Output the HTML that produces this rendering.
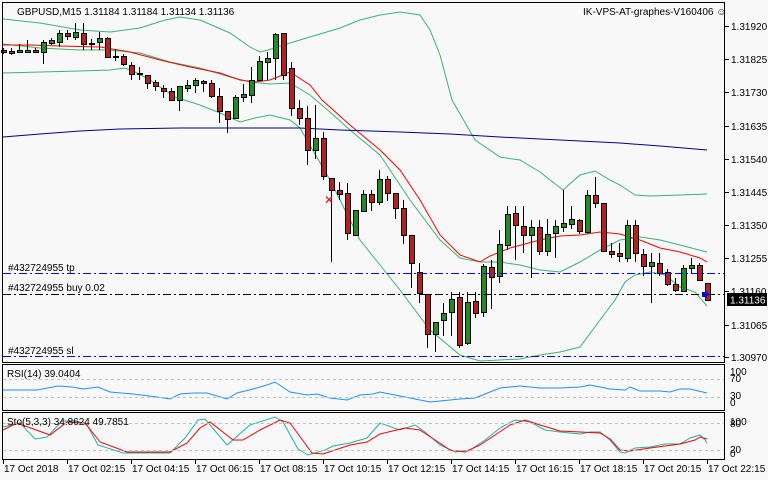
<!DOCTYPE html>
<html><head><meta charset="utf-8"><style>
html,body{margin:0;padding:0;background:#f8f8f8;}
svg{display:block;font-family:"Liberation Sans",sans-serif;font-size:10px;}
</style></head><body>
<svg id="s" width="768" height="480" viewBox="0 0 768 480" xmlns="http://www.w3.org/2000/svg">
<rect width="768" height="480" fill="#f8f8f8"/>
<g id="g"></g>
<rect x="2.5" y="2.5" width="722" height="360" fill="none" stroke="#000"/>
<rect x="2.5" y="364.5" width="722" height="46" fill="none" stroke="#000"/>
<rect x="2.5" y="412.5" width="722" height="47" fill="none" stroke="#000"/>
<line x1="3" y1="273.5" x2="724" y2="273.5" stroke="#0000ff" stroke-dasharray="8,3,2,3"/>
<line x1="3" y1="294.5" x2="724" y2="294.5" stroke="#000" stroke-dasharray="8,3,2,3"/>
<line x1="3" y1="356.5" x2="724" y2="356.5" stroke="#0000ff" stroke-dasharray="8,3,2,3"/>
<line x1="3" y1="379.5" x2="724" y2="379.5" stroke="#c0c0c0" stroke-dasharray="3,3"/>
<line x1="3" y1="397.5" x2="724" y2="397.5" stroke="#c0c0c0" stroke-dasharray="3,3"/>
<line x1="3" y1="423.5" x2="724" y2="423.5" stroke="#c0c0c0" stroke-dasharray="3,3"/>
<line x1="3" y1="450.5" x2="724" y2="450.5" stroke="#c0c0c0" stroke-dasharray="3,3"/>
<g fill="#000">
<text x="17" y="15">GBPUSD,M15  1.31184 1.31184 1.31134 1.31136</text>
<text x="583" y="15">IK-VPS-AT-graphes-V160406 ☺</text>
<text x="8" y="271">#432724955 tp</text>
<text x="8" y="291">#432724955 buy 0.02</text>
<text x="8" y="354">#432724955 sl</text>
<text x="7" y="377">RSI(14) 39.0404</text>
<text x="7" y="425">Sto(5,3,3) 34.8624 49.7851</text>
</g>
<g id="ax" fill="#000"></g>
</svg>
<script>
var g=document.getElementById('g'),ax=document.getElementById('ax');
var h='';
function pl(pts,c,w){return '<polyline fill="none" stroke="'+c+'" stroke-width="'+(w||1)+'" points="'+pts.map(function(p){return p.join(',')}).join(' ')+'"/>';}
h+=pl([[3,19],[40,23],[80,30],[110,32],[140,28],[165,20],[180,17],[200,20],[230,33],[250,47],[260,52],[268,50],[290,43],[310,37],[340,28],[360,20],[380,15],[400,12],[420,15],[430,30],[440,55],[452,100],[475,140],[500,157],[520,160],[540,172],[563,190],[580,175],[595,171],[610,180],[620,185],[635,195],[650,196],[680,195],[707,194]],'#3cb371');
h+=pl([[3,44],[40,48],[80,50],[110,50],[140,53],[170,62],[200,68],[230,77],[250,82],[270,84],[290,83],[310,95],[330,112],[350,130],[380,155],[410,200],[440,240],[460,258],[480,262],[500,262],[520,265],[540,270],[560,272],[580,262],[600,250],[620,240],[640,237],[660,240],[680,245],[707,252]],'#3cb371');
h+=pl([[3,73],[40,72],[80,71],[110,70],[125,68],[135,72],[150,80],[175,97],[200,105],[220,113],[240,122],[255,118],[270,115],[290,120],[300,128],[330,180],[360,240],[400,290],[430,330],[460,355],[480,361],[520,359],[540,355],[560,352],[580,347],[600,320],[615,300],[625,282],[635,275],[650,272],[665,275],[680,287],[695,292],[707,306]],'#3cb371');
h+=pl([[3,45],[30,45],[60,46],[100,47],[130,52],[160,60],[190,67],[220,73],[240,80],[255,82],[270,80],[290,72],[310,85],[322,100],[350,125],[380,150],[400,170],[420,200],[440,235],[460,255],[480,262],[490,256],[510,248],[540,240],[560,236],[580,235],[600,232],[620,234],[640,240],[660,248],[680,252],[700,258],[707,262]],'#ff0000');
h+=pl([[3,137],[40,134],[80,131],[120,129],[180,128],[240,128],[300,128],[340,130],[400,132],[450,134],[500,137],[560,140],[620,143],[660,146],[707,150]],'#00008b');
var C=[[50,52,48,54],[51,53,48,55],[52,50,44,53],[52,50,40,52],[50,52,48,53],[52,42,40,64],[43,40,38,45],[42,33,30,47],[33,36,30,40],[37,32,23,40],[33,44,23,50],[43,44,39,50],[42,38,32,50],[38,57,37,58],[56,56,49,61],[56,64,54,66],[65,74,62,80],[73,73,67,80],[75,83,75,89],[82,86,80,91],[88,91,85,98],[91,100,88,101],[100,86,86,111],[88,85,80,92],[85,80,78,93],[81,83,80,92],[83,96,80,98],[96,111,88,123],[111,119,111,133],[118,97,95,118],[97,94,84,102],[95,80,67,103],[80,61,56,80],[62,58,52,80],[58,34,33,80],[33,75,33,80],[68,108,62,116],[108,118,100,125],[118,150,106,165],[150,138,105,159],[138,176,132,180],[178,190,178,262],[190,194,182,200],[193,233,183,240],[235,210,210,236],[211,194,190,212],[194,202,190,211],[202,179,170,205],[179,193,176,201],[193,208,193,219],[208,235,200,244],[235,263,235,288],[272,293,263,303],[294,334,294,348],[334,322,322,352],[320,313,303,336],[312,299,292,336],[297,345,292,348],[343,302,292,345],[301,313,292,318],[312,266,264,317],[267,277,260,309],[276,244,230,283],[245,214,206,250],[213,225,206,260],[226,235,206,253],[235,227,220,278],[227,251,220,255],[251,234,219,256],[233,226,220,258],[227,223,190,232],[224,219,206,229],[220,231,219,234],[232,195,190,234],[195,203,177,208],[203,251,203,251],[251,254,243,258],[253,256,243,262],[258,225,220,262],[225,253,220,262],[254,266,249,276],[266,262,253,303],[263,273,253,276],[272,284,269,286],[284,290,278,292],[291,268,265,292],[268,265,258,273],[265,280,263,281],[283,300,283,300]];
C.forEach(function(c,i){var x=3+8*i;var up=c[1]<c[0];var t=Math.min(c[0],c[1]),b=Math.max(c[0],c[1]);
h+='<line x1="'+(x+.5)+'" y1="'+c[2]+'" x2="'+(x+.5)+'" y2="'+c[3]+'" stroke="#000"/>';
if(b-t<1)b=t+1;
h+='<rect x="'+(x-2+.5)+'" y="'+(t+.5)+'" width="5" height="'+(b-t)+'" fill="'+(up?'#228b22':'#b22222')+'" stroke="#000"/>';});
h+='<text x="324" y="204" fill="#ff0000" font-size="12">✕</text>';
h+='<polygon points="702,292 705,292 705,290 709,294.5 705,299 705,297 702,297" fill="#0000ff"/>';
h+=pl([[3,390],[37,390],[58,386],[72,387],[83,389],[98,387],[110,392],[133,394],[157,397],[170,399],[180,394],[193,393],[207,393],[227,399],[237,393],[253,389],[267,385],[275,382],[290,392],[307,395],[317,394],[330,398],[347,400],[360,395],[373,394],[380,392],[400,396],[420,400],[430,402],[440,401],[460,399],[475,398],[490,392],[500,388],[520,386],[540,388],[560,388],[580,387],[590,385],[610,389],[625,390],[630,387],[640,391],[660,391],[670,392],[680,389],[690,389],[707,393]],'#1e90ff');
h+=pl([[3,427],[20,423],[35,439],[47,437],[62,421],[77,421],[87,425],[98,445],[123,453],[170,453],[185,438],[198,420],[205,419],[227,445],[250,425],[275,417],[283,422],[298,449],[308,455],[325,450],[333,446],[350,443],[367,438],[380,423],[400,430],[415,425],[425,432],[440,445],[455,452],[470,450],[485,440],[500,428],[515,420],[530,422],[545,430],[560,432],[580,434],[590,432],[600,432],[610,440],[620,452],[625,453],[635,448],[650,447],[665,444],[680,444],[690,438],[700,435],[705,440],[707,443]],'#20b2aa');
h+=pl([[3,430],[17,423],[50,435],[67,422],[85,423],[100,442],[127,452],[170,452],[187,443],[200,428],[210,422],[233,440],[243,440],[260,430],[280,420],[290,423],[312,453],[323,454],[350,445],[367,442],[380,434],[405,428],[420,430],[435,440],[450,450],[465,452],[480,445],[495,435],[510,425],[525,420],[540,425],[560,431],[600,433],[610,439],[620,450],[630,451],[650,448],[680,444],[695,440],[700,437],[707,439]],'#ff0000');
g.innerHTML=h;
var a='';
var pr=[['1.31920',26],['1.31825',59],['1.31730',92],['1.31635',126],['1.31540',159],['1.31445',192],['1.31350',225],['1.31255',258],['1.31160',291],['1.31065',325],['1.30970',357]];
pr.forEach(function(p){a+='<line x1="725" y1="'+(p[1]+.5)+'" x2="729" y2="'+(p[1]+.5)+'" stroke="#000"/><text x="731" y="'+(p[1]+4)+'">'+p[0]+'</text>';});
a+='<rect x="727" y="293" width="40" height="13" fill="#000"/><text x="730" y="303.5" fill="#fff">1.31136</text>';
[['100',375],['70',382],['30',399],['0',406],['100',425],['80',427],['20',453],['0',457]].forEach(function(p){a+='<text x="730" y="'+p[1]+'" font-size="10">'+p[0]+'</text>';});
var tl=['17 Oct 2018','17 Oct 02:15','17 Oct 04:15','17 Oct 06:15','17 Oct 08:15','17 Oct 10:15','17 Oct 12:15','17 Oct 14:15','17 Oct 16:15','17 Oct 18:15','17 Oct 20:15','17 Oct 22:15'];
tl.forEach(function(t,i){var x=3+64*i;a+='<line x1="'+(x+.5)+'" y1="460" x2="'+(x+.5)+'" y2="464" stroke="#000"/><text x="'+(x+1)+'" y="472">'+t+'</text>';});
ax.innerHTML=a;
</script>
</body></html>
